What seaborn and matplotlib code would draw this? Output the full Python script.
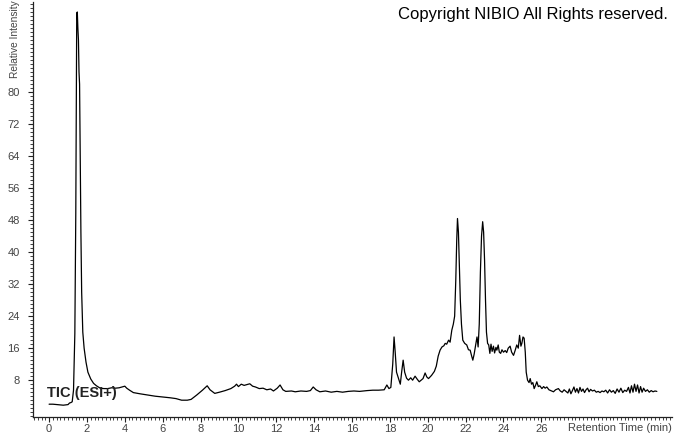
import pandas as pd
import matplotlib.pyplot as plt
from matplotlib.ticker import MultipleLocator, FixedLocator
import seaborn as sns

# Chromatogram trace (time in min, relative intensity)
time_min = [
    0.0, 0.2, 0.4, 0.6, 0.75, 0.9, 1.0, 1.08, 1.15, 1.22,
    1.29, 1.36, 1.41, 1.46, 1.49, 1.52, 1.55, 1.58, 1.61, 1.64, 1.68, 1.72,
    1.78, 1.85, 1.95, 2.05, 2.2, 2.35, 2.5, 2.7, 2.9, 3.1, 3.3, 3.5, 3.7,
    3.85, 4.0, 4.1, 4.25, 4.45, 4.8, 5.2, 5.6, 6.0, 6.4, 6.7, 7.0, 7.3,
    7.5, 7.8, 8.1, 8.35, 8.5, 8.75, 9.0, 9.3, 9.6, 9.8, 9.9, 10.0, 10.15,
    10.3, 10.45, 10.6, 10.75, 10.9, 11.1, 11.3, 11.5, 11.7, 11.85, 12.05,
    12.2, 12.35, 12.5, 12.8, 13.0, 13.3, 13.6, 13.8, 13.95, 14.1, 14.3,
    14.6, 14.9, 15.2, 15.5, 15.8, 16.1, 16.4, 16.8, 17.1, 17.4, 17.7,
    17.84, 17.95, 18.05, 18.15, 18.22, 18.28, 18.35, 18.45, 18.55, 18.62,
    18.7, 18.78, 18.88, 18.98, 19.1, 19.2, 19.33, 19.45, 19.55, 19.65,
    19.75, 19.86, 19.95, 20.04, 20.2, 20.35, 20.45, 20.55, 20.65, 20.75,
    20.85, 20.92, 21.0, 21.1, 21.18, 21.27, 21.35, 21.42, 21.48, 21.53,
    21.57, 21.62, 21.67, 21.72, 21.78, 21.85, 21.95, 22.06, 22.15, 22.24,
    22.32, 22.38, 22.45, 22.52, 22.6, 22.66, 22.72, 22.78, 22.84, 22.9,
    22.95, 23.0, 23.05, 23.1, 23.16, 23.22, 23.28, 23.34, 23.4, 23.47,
    23.53, 23.6, 23.65, 23.72, 23.78, 23.85, 23.92, 24.0, 24.09, 24.17,
    24.25, 24.35, 24.43, 24.53, 24.62, 24.7, 24.78, 24.85, 24.92, 24.97,
    25.03, 25.09, 25.15, 25.2, 25.27, 25.35, 25.41, 25.48, 25.55, 25.62,
    25.7, 25.76, 25.84, 25.92, 26.03, 26.12, 26.2, 26.29, 26.4, 26.5,
    26.64, 26.75, 26.9, 27.0, 27.1, 27.2, 27.3, 27.4, 27.48, 27.56, 27.64,
    27.72, 27.8, 27.88, 27.96, 28.04, 28.12, 28.2, 28.28, 28.36, 28.44,
    28.52, 28.6, 28.7, 28.8, 28.9, 29.0, 29.1, 29.2, 29.3, 29.4, 29.5,
    29.6, 29.7, 29.8, 29.9, 30.0, 30.1, 30.2, 30.3, 30.4, 30.5, 30.6,
    30.68, 30.76, 30.84, 30.92, 31.0, 31.08, 31.16, 31.24, 31.32, 31.4,
    31.5, 31.6, 31.7, 31.8, 31.9, 32.0, 32.1,
]
intensity = [
    2.0, 2.0, 1.9, 1.8, 1.75, 1.85, 1.9, 2.3, 2.4, 2.6,
    5.5, 19.7, 49.7, 99.7, 100.0, 96.0, 93.0, 85.0, 82.0, 65.0, 45.0, 30.0,
    20.0, 16.0, 12.5, 10.0, 8.3, 7.2, 6.6, 6.0, 5.9, 5.9, 6.1, 6.0, 6.1,
    6.3, 6.5, 6.0, 5.5, 4.9, 4.6, 4.3, 4.0, 3.8, 3.6, 3.4, 3.0, 3.0,
    3.2, 4.3, 5.5, 6.6, 5.6, 4.7, 5.0, 5.4, 5.9, 6.5, 7.0, 6.4, 7.0,
    6.7, 6.9, 7.1, 6.5, 6.3, 5.9, 6.0, 5.6, 5.8, 5.3, 6.0,
    6.8, 5.6, 5.2, 5.3, 5.1, 5.3, 5.2, 5.4, 6.3, 5.6, 5.1,
    5.3, 5.0, 5.2, 5.0, 5.2, 5.3, 5.2, 5.4, 5.5, 5.5, 5.6,
    6.8, 5.9, 6.2, 12.0, 18.8, 15.0, 10.0, 8.5, 7.0, 10.0,
    13.0, 10.0, 8.5, 8.0, 8.6, 8.0, 9.0, 8.2, 7.6, 8.0,
    8.4, 9.8, 8.8, 8.4, 9.2, 10.2, 11.5, 14.0, 15.5, 16.3,
    16.6, 17.2, 17.0, 18.0, 17.5, 20.5, 22.0, 24.0, 33.0, 43.0,
    48.4, 45.0, 36.0, 28.0, 22.0, 18.0, 17.2, 16.8, 15.6, 15.5,
    14.0, 13.0, 14.5, 16.5, 18.8, 16.3, 22.0, 35.0, 44.0, 47.6,
    45.0, 38.0, 28.0, 20.0, 17.2, 16.8, 14.7, 17.0, 15.2, 16.5,
    14.8, 16.2, 15.5, 16.8, 15.0, 14.7, 15.6, 15.0, 15.4, 14.9,
    16.0, 16.5, 15.0, 14.2, 15.5, 16.8, 16.0, 19.2, 16.5, 17.2,
    18.8, 18.5, 15.0, 10.0, 8.0, 7.4, 8.4, 7.0, 7.4, 5.9,
    6.8, 7.6, 6.4, 6.6, 5.9, 6.4, 6.0, 6.3, 5.6, 5.4,
    5.1, 5.6, 5.9, 5.3, 5.0, 5.6, 5.2, 4.8, 5.8, 4.6, 5.4,
    6.3, 5.0, 5.9, 4.8, 6.2, 5.2, 5.8, 4.9, 5.6, 6.0,
    5.1, 5.7, 5.3, 5.5, 5.0, 5.2, 4.9, 5.3, 5.1, 5.5, 4.8,
    5.6, 5.0, 5.4, 4.7, 5.8, 5.0, 6.0, 4.9, 5.5, 5.2, 6.2,
    4.8, 6.6, 5.0, 7.0, 5.2, 6.8, 4.8, 6.4, 5.0, 6.0,
    5.2, 5.6, 5.0, 5.4, 5.1, 5.3, 5.2,
]

x_ticks = list(range(0, 27, 2))
y_ticks = [8, 16, 24, 32, 40, 48, 56, 64, 72, 80]

df = pd.DataFrame({"time": time_min, "intensity": intensity})

sns.set_style("ticks")
plt.rcParams['font.family'] = ['Liberation Sans', 'DejaVu Sans']

fig = plt.figure(figsize=(6.74, 4.34), dpi=100)
ax = fig.add_axes([33 / 674, 1 - 417 / 434, (672 - 33) / 674, 415 / 434])

sns.lineplot(data=df, x="time", y="intensity", ax=ax, color="black",
             linewidth=0.9, estimator=None, sort=False)

ax.set_xlim(-0.85, 32.9)
ax.set_ylim(-1.2, 102.5)
sns.despine(ax=ax)
for s in ["left", "bottom"]:
    ax.spines[s].set_linewidth(0.9)
    ax.spines[s].set_color("#222222")

ax.xaxis.set_major_locator(FixedLocator(x_ticks))
ax.xaxis.set_minor_locator(MultipleLocator(0.2))
ax.yaxis.set_major_locator(FixedLocator(y_ticks))
ax.yaxis.set_minor_locator(MultipleLocator(1))
ax.tick_params(which="major", length=3.5, width=0.8, color="#222222",
               labelsize=8, labelcolor="#444444")
ax.tick_params(which="minor", length=2.2, width=0.6, color="#222222")
ax.tick_params(axis="x", which="major", pad=1.5)
ax.tick_params(axis="y", which="major", pad=6)
ax.set_xlabel("")
ax.set_ylabel("")

fig.text(672 / 674, 1 - 428 / 434, "Retention Time (min)", ha="right",
         va="center", fontsize=8, color="#444444")
fig.text(15 / 674, 1 - 78 / 434, "Relative Intensity", rotation=90,
         ha="center", va="bottom", fontsize=7.3, color="#444444")
fig.text(668 / 674, 1 - 14 / 434, "Copyright NIBIO All Rights reserved.",
         ha="right", va="center", fontsize=12, color="black")
ax.text(-0.1, 4.7, "TIC (ESI+)", ha="left", va="center", fontsize=10.5,
        color="#222222", fontweight="bold")

fig.savefig("out.png", dpi=100)
